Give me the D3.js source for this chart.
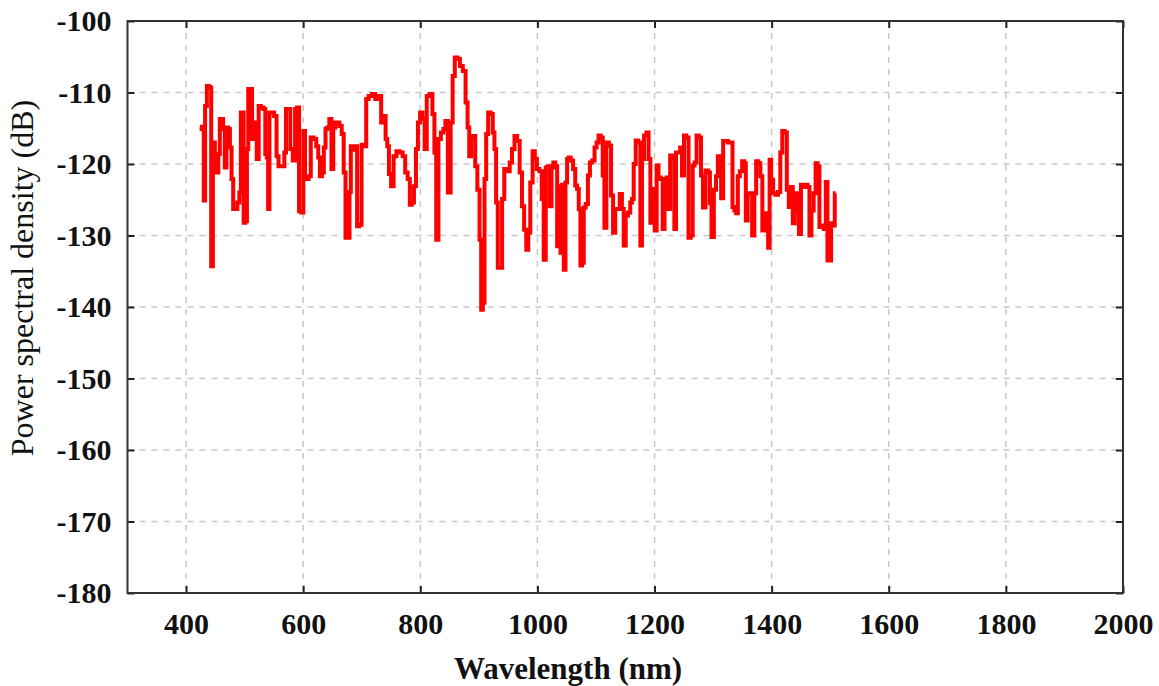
<!DOCTYPE html>
<html>
<head>
<meta charset="utf-8">
<script src="https://cdn.jsdelivr.net/npm/d3@7"></script>
<style>
  body { margin: 0; background: #fff; }
  svg { display: block; }
</style>
</head>
<body>
<div id="chart"></div>
<script>
'use strict'

// wavelength (nm)
const wavelength = [
  423.7, 429.4, 431.1, 433.9, 437.3, 441.8, 444.1, 447.5, 450.9, 453.7, 456.5, 458.8, 462.2, 464.4, 467.8, 470.1,
  473.5, 476.3, 479.1, 481.9, 485.9, 489.3, 492.7, 494.4, 497.2, 499.4, 502.8, 505.1, 507.3, 511.3, 514.1, 518.7,
  522.6, 525.4, 530.0, 533.9, 536.8, 539.0, 541.3, 543.5, 548.0, 552.6, 556.5, 559.3, 566.1, 569.5, 571.8, 576.3,
  579.7, 584.8, 587.6, 591.5, 594.4, 598.9, 601.7, 604.5, 607.4, 611.3, 614.7, 620.4, 624.3, 627.1, 630.0, 633.9,
  636.7, 639.6, 642.4, 646.9, 649.7, 653.1, 656.5, 659.9, 663.9, 667.8, 670.6, 674.0, 678.0, 680.2, 682.5, 685.3,
  690.4, 693.8, 697.8, 701.7, 706.2, 709.1, 714.7, 720.4, 726.0,
  730.9, 735.4, 739.4, 742.2, 745.0, 747.9, 752.4, 756.4, 762.0, 767.7, 772.2, 776.2, 780.7, 783.6, 787.5, 790.9,
  794.3, 797.7, 801.7, 805.7, 809.1, 813.0, 818.7, 822.7, 825.5, 828.9, 832.9, 837.4, 841.4, 844.2, 849.9, 853.8,
  856.7, 861.2, 865.7, 869.7, 875.4, 879.3, 882.2, 885.0, 888.4, 892.4, 895.2, 899.7, 902.6, 905.4, 908.2, 911.1,
  913.9, 917.9, 922.4, 925.2, 928.1, 930.9, 933.7, 937.7, 941.7, 945.1, 950.7, 954.7, 958.6, 963.2, 967.7, 971.7,
  975.6, 979.0, 983.0, 985.8, 989.8, 993.8, 997.2, 1001.1, 1005.7, 1009.1, 1012.5, 1015.9, 1019.8, 1022.7, 1025.5,
  1028.9, 1032.3, 1035.1, 1038.0, 1040.8, 1043.6, 1046.5, 1049.3, 1052.1,
  1054.9, 1058.9, 1062.9, 1066.3, 1069.2, 1072.0, 1074.9, 1077.7, 1080.6, 1084.5, 1088.0, 1091.4, 1095.9, 1099.3,
  1102.7, 1106.1, 1110.1, 1113.0, 1115.8, 1119.8, 1124.3, 1127.2, 1131.2, 1134.6, 1138.6, 1142.6, 1146.0, 1148.8,
  1152.8, 1156.8, 1160.2, 1163.0, 1165.9, 1169.9, 1174.4, 1177.2, 1180.1, 1184.1, 1188.1, 1191.5, 1194.3, 1198.3,
  1202.3, 1205.1, 1208.5, 1212.5, 1215.4, 1218.8, 1222.2, 1225.0, 1228.4, 1232.4, 1235.3, 1238.1, 1242.1, 1245.5,
  1248.3, 1252.3, 1256.3, 1259.7, 1263.7, 1266.7, 1270.1, 1273.5, 1278.0, 1280.8, 1284.8, 1289.3, 1293.9,
  1295.3, 1299.3, 1303.3, 1306.7, 1309.6, 1312.4, 1315.2, 1319.2, 1323.2, 1327.8, 1331.7, 1334.6, 1338.0, 1340.8,
  1343.7, 1347.7, 1351.7, 1354.5, 1357.3, 1360.8, 1364.7, 1368.7, 1372.1, 1375.0, 1379.0, 1382.4, 1385.8, 1389.2,
  1392.6, 1395.4, 1397.7, 1400.6, 1404.6, 1408.5, 1413.1, 1416.5, 1419.9, 1424.5, 1427.3, 1431.3, 1434.7, 1437.5,
  1441.5, 1444.9, 1448.3, 1451.8, 1455.7, 1459.7, 1463.1, 1466.0, 1470.0, 1473.4, 1476.8, 1480.2, 1483.0, 1487.0,
  1491.0, 1493.9, 1496.7, 1500.1, 1503.0, 1506.4, 1509.2
]

// power spectral density (dB), same order as wavelength
const psd = [
  -114.8, -115.1, -125.1, -111.9, -109.1, -109.3, -134.3, -117.0, -118.9, -121.2, -118.6, -113.7, -113.7, -115.1, -120.5, -114.9,
  -115.1, -117.7, -122.1, -126.3, -126.3, -125.4, -124.0, -112.8, -112.8, -128.2, -128.0, -117.9, -109.5, -109.5, -116.5, -114.2,
  -119.3, -111.9, -112.1, -112.3, -118.6, -119.1, -126.3, -112.8, -112.8, -113.3, -118.9, -120.3, -120.3, -118.4, -112.3, -112.3,
  -117.9, -119.5, -112.3, -112.1, -126.6, -126.8, -115.4, -121.7, -122.1, -121.7, -116.3, -116.5, -117.5, -119.1, -121.7, -121.2,
  -117.7, -115.1, -114.9, -113.7, -120.7, -114.9, -114.2, -114.2, -114.7, -115.8, -121.2, -130.3, -130.3, -123.9, -117.5, -118.0,
  -117.5, -128.7, -128.5, -117.3, -117.5, -110.9, -110.5, -110.2, -110.9,
  -110.5, -114.2, -113.3, -116.5, -117.5, -121.4, -123.1, -118.9, -118.2, -118.4, -118.9, -121.2, -122.1, -125.7, -125.4, -123.1,
  -117.9, -114.2, -112.8, -113.7, -117.9, -110.5, -110.2, -113.0, -118.4, -130.6, -116.5, -115.6, -115.1, -114.0, -124.0, -114.2,
  -107.7, -105.1, -105.3, -106.3, -107.0, -111.4, -114.9, -118.9, -116.5, -116.1, -120.3, -123.6, -130.6, -140.4, -139.4, -122.1,
  -115.8, -112.8, -113.0, -115.6, -117.9, -125.4, -134.5, -134.5, -124.9, -120.7, -121.0, -119.8, -117.9, -116.1, -116.8, -121.2,
  -125.9, -129.2, -132.0, -129.6, -122.6, -118.2, -119.3, -120.7, -121.0, -124.9, -133.4, -120.5, -120.3, -125.9, -120.5,
  -119.8, -120.3, -131.5, -123.1, -132.4, -122.9, -134.8, -122.6, -119.3,
  -119.1, -119.5, -120.7, -123.0, -123.5, -126.3, -134.2, -133.8, -126.1, -125.6, -121.6, -119.8, -119.5, -117.7,
  -117.0, -116.0, -116.3, -121.6, -128.9, -117.0, -117.4, -124.4, -129.6, -126.3, -126.3, -124.2, -126.3, -131.4,
  -127.2, -126.8, -125.4, -124.9, -120.0, -116.7, -117.0, -131.4, -119.3, -116.0, -115.6, -119.3, -128.2, -123.5,
  -129.3, -120.2, -121.9, -122.1, -129.1, -123.0, -121.9, -126.3, -118.8, -119.3, -129.1, -118.4, -118.4, -117.7,
  -121.6, -116.0, -116.3, -130.3, -130.0, -120.2, -119.8, -116.0, -116.3, -121.6, -126.1, -120.9, -121.2,
  -125.5, -130.2, -123.6, -121.7, -118.9, -121.7, -124.8, -116.8, -116.8, -117.0, -117.0, -126.0, -126.5, -126.9,
  -121.7, -121.0, -119.6, -119.9, -127.9, -124.1, -124.1, -130.0, -124.1, -119.6, -119.9, -121.7, -129.3, -126.9,
  -128.8, -131.7, -119.4, -122.2, -124.1, -124.3, -123.9, -118.4, -115.4, -115.6, -123.6, -126.0, -123.2, -128.3,
  -124.1, -126.7, -129.8, -122.9, -123.2, -122.9, -123.2, -130.0, -126.5, -124.1, -119.9, -120.3, -128.8, -128.6,
  -129.1, -122.5, -133.5, -133.5, -128.3, -128.6, -124.1
]

const xTicks = [400, 600, 800, 1000, 1200, 1400, 1600, 1800, 2000]
const yTicks = [-100, -110, -120, -130, -140, -150, -160, -170, -180]

const data = wavelength.map((w, i) => ({ w: w, p: psd[i] }))

function drawChart (data) {
  const width = 1159
  const height = 686
  const margin = { top: 21, right: 36, bottom: 93, left: 127.5 }
  const innerW = width - margin.left - margin.right
  const innerH = height - margin.top - margin.bottom
  const tickLen = 7
  const labelFont = '"Liberation Serif", "Times New Roman", serif'

  const x = d3.scaleLinear().domain([300, 2000]).range([0, innerW])
  const y = d3.scaleLinear().domain([-180, -100]).range([innerH, 0])

  const svg = d3.select('#chart').append('svg')
    .attr('width', width)
    .attr('height', height)

  const g = svg.append('g')
    .attr('transform', 'translate(' + margin.left + ',' + margin.top + ')')

  // dashed grid
  g.append('g').selectAll('line')
    .data(xTicks.filter(t => t < 2000))
    .join('line')
    .attr('x1', d => x(d)).attr('x2', d => x(d))
    .attr('y1', 0).attr('y2', innerH)
    .attr('stroke', '#c8c8c8')
    .attr('stroke-width', 1.5)
    .attr('stroke-dasharray', '6,6')

  g.append('g').selectAll('line')
    .data(yTicks.filter(t => t > -180 && t < -100))
    .join('line')
    .attr('x1', 0).attr('x2', innerW)
    .attr('y1', d => y(d)).attr('y2', d => y(d))
    .attr('stroke', '#c8c8c8')
    .attr('stroke-width', 1.5)
    .attr('stroke-dasharray', '6,6')

  // data line, drawn as steps like the original trace
  const valueline = d3.line()
    .curve(d3.curveStep)
    .x(d => x(d.w))
    .y(d => y(d.p))

  g.append('path')
    .datum(data)
    .attr('fill', 'none')
    .attr('stroke', '#ff0000')
    .attr('stroke-width', 4)
    .attr('stroke-linejoin', 'miter')
    .attr('d', valueline)

  // axes: ticks pointing inward on all four sides
  const fmt = d3.format('d')
  const xBottom = d3.axisBottom(x).tickValues(xTicks).tickSizeInner(-tickLen).tickSizeOuter(0).tickPadding(20).tickFormat(fmt)
  const xTop = d3.axisTop(x).tickValues(xTicks).tickSizeInner(-tickLen).tickSizeOuter(0).tickFormat('')
  const yLeft = d3.axisLeft(y).tickValues(yTicks).tickSizeInner(-tickLen).tickSizeOuter(0).tickPadding(16)
    .tickFormat(d => String(d))
  const yRight = d3.axisRight(y).tickValues(yTicks).tickSizeInner(-tickLen).tickSizeOuter(0).tickFormat('')

  const axes = [
    g.append('g').attr('transform', 'translate(0,' + innerH + ')').call(xBottom),
    g.append('g').call(xTop),
    g.append('g').call(yLeft),
    g.append('g').attr('transform', 'translate(' + innerW + ',0)').call(yRight)
  ]
  axes.forEach(a => {
    a.select('.domain').remove()
    a.selectAll('.tick line').attr('stroke', '#222').attr('stroke-width', 2)
    a.selectAll('.tick text')
      .attr('fill', '#111')
      .style('font-family', labelFont)
      .style('font-weight', 'bold')
      .style('font-size', '30px')
  })

  // frame
  g.append('rect')
    .attr('x', 0).attr('y', 0)
    .attr('width', innerW).attr('height', innerH)
    .attr('fill', 'none')
    .attr('stroke', '#333')
    .attr('stroke-width', 2)

  // axis titles
  svg.append('text')
    .attr('x', 568)
    .attr('y', 679)
    .attr('text-anchor', 'middle')
    .style('font-family', labelFont)
    .style('font-weight', 'bold')
    .style('font-size', '31px')
    .attr('fill', '#111')
    .text('Wavelength (nm)')

  svg.append('text')
    .attr('transform', 'translate(33,278) rotate(-90)')
    .attr('text-anchor', 'middle')
    .style('font-family', labelFont)
    .style('font-size', '32px')
    .attr('fill', '#111')
    .text('Power spectral density (dB)')
}

drawChart(data)
</script>
</body>
</html>
